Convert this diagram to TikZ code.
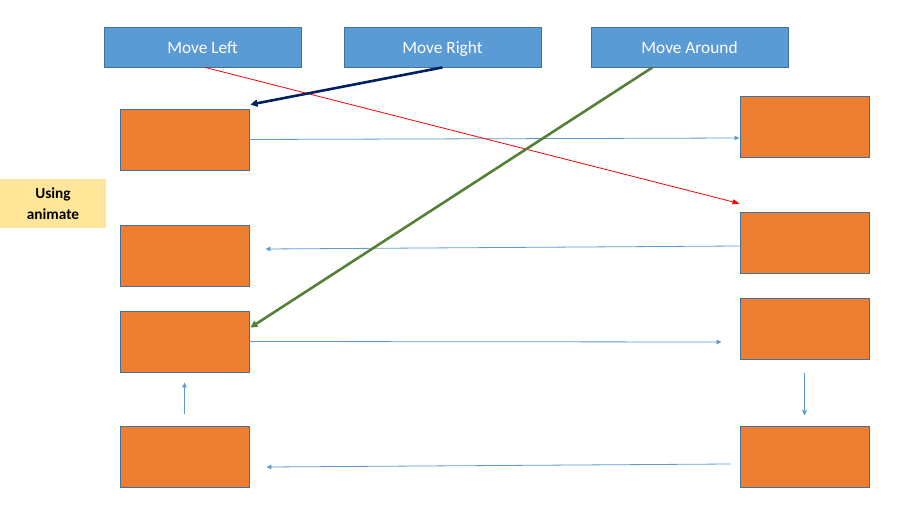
\documentclass[tikz,border=0pt]{standalone}
\usepackage{fontspec}
\setmainfont{Carlito}
\usetikzlibrary{calc,arrows.meta}
\definecolor{btnfill}{HTML}{5B9BD5}
\definecolor{btndraw}{HTML}{41719C}
\definecolor{orfill}{HTML}{ED7D31}
\definecolor{lblfill}{HTML}{FFE699}
\definecolor{navyc}{HTML}{002060}
\definecolor{greenc}{HTML}{538135}
\definecolor{bluec}{HTML}{5B9BD5}
\tikzset{
  btn/.style={draw=btndraw, fill=btnfill, line width=0.8pt, minimum width=197pt, minimum height=40pt, inner sep=0pt, text=white, text height=13.5pt, text depth=0.5pt, font=\fontsize{17.3}{20}\selectfont},
  obox/.style={draw=btndraw, fill=orfill, line width=0.9pt, minimum width=129pt, minimum height=61pt, inner sep=0pt},
  lbl/.style={fill=lblfill, minimum width=106pt, minimum height=49pt, inner sep=0pt, align=center, font=\fontsize{15.3}{20.5}\selectfont\bfseries},
  thin/.style={draw=bluec, line width=0.8pt, -{Triangle[length=5pt,width=4.5pt]}},
  redarr/.style={draw=red, line width=0.8pt, -{Triangle[length=7pt,width=5pt]}},
  thick/.style={line width=2.6pt, -{Triangle[length=7pt,width=7pt]}}
}
\begin{document}
\begin{tikzpicture}[x=1pt,y=-1pt]
\useasboundingbox (0,0) rectangle (920,510);
\node[btn] (ML) at (202.5,47) {Move Left};
\node[btn] (MR) at (442.5,47) {Move Right};
\node[btn] (MA) at (689.5,47) {Move Around};
\node[lbl] (U) at (53,203.5) {Using\\animate};
\node[obox] (L1) at (184.5,139.5) {};
\node[obox] (L2) at (184.5,255.5) {};
\node[obox] (L3) at (184.5,341.5) {};
\node[obox] (L4) at (184.5,456.5) {};
\node[obox] (R1) at (804.5,126.5) {};
\node[obox] (R2) at (804.5,242.5) {};
\node[obox] (R3) at (804.5,328.5) {};
\node[obox] (R4) at (804.5,456.5) {};
% blue connectors
\draw[thin] (L1.east) -- ($(R1.west)+(0,11.5)$);
\draw[thin] ($(R2.west)+(0,3.5)$) -- ($(L2.east)+(16,-6.5)$);
\draw[thin] (L3.east) -- ($(R3.west)+(-18,13.5)$);
\draw[thin] ($(R3.south)+(0,14)$) -- ($(R3.south)+(0,56)$);
\draw[thin] ($(R4.west)+(-9,7.5)$) -- ($(L4.east)+(17,10.5)$);
\draw[thin] ($(L4.north)+(0,-12)$) -- ($(L3.south)+(0,10)$);
% button connectors
\draw[redarr] ($(ML.south)+(2.5,0)$) -- ($(R2.north west)+(0,-8)$);
\draw[thick, navyc] (MR.south) -- ($(L1.north east)+(1,-4)$);
\draw[thick, greenc] ($(MA.south)+(-37,0)$) -- ($(L3.north east)+(1,17)$);
\end{tikzpicture}
\end{document}
